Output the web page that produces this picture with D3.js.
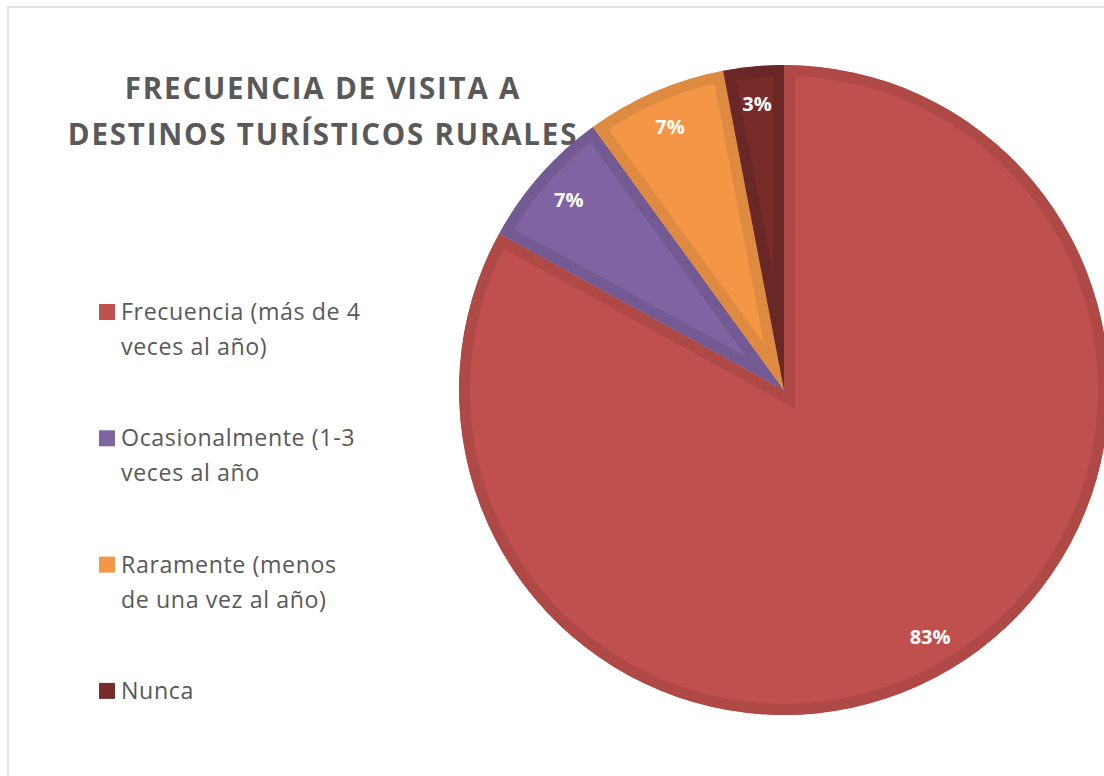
<!DOCTYPE html>
<html>
<head>
<meta charset="utf-8">
<script src="https://cdn.jsdelivr.net/npm/d3@7"></script>
<style>
  html, body { margin: 0; padding: 0; background: #fff; overflow: hidden; }
  svg { display: block; font-family: "Open Sans", sans-serif; }
</style>
</head>
<body>
<div id="chart"></div>
<script>
// data
const categories = [
  ["Frecuencia (más de 4", "veces al año)"],
  ["Ocasionalmente (1-3", "veces al año"],
  ["Raramente (menos", "de una vez al año)"],
  ["Nunca"]
];
const values = [83, 7, 7, 3];
const colors = ["#C0504D", "#8064A2", "#F39645", "#772C2A"];
const edgeColors = ["#AE4946", "#735A92", "#DE8A41", "#692826"];
const titleLines = ["FRECUENCIA DE VISITA A", "DESTINOS TURÍSTICOS RURALES"];

const W = 1104, H = 776;
const cx = 784, cy = 390, radius = 325;

const svg = d3.select("#chart").append("svg")
    .attr("width", W)
    .attr("height", H);

// chart area frame
svg.append("rect")
    .attr("x", 8).attr("y", 7)
    .attr("width", W + 20).attr("height", H + 20)
    .attr("fill", "#fff")
    .attr("stroke", "#d9d9d9")
    .attr("stroke-width", 1.5);

const total = d3.sum(values);
const pie = d3.pie().sort(null).value(d => d);
const arcs = pie(values);
const arc = d3.arc().innerRadius(0).outerRadius(radius);
const labelArc = d3.arc().innerRadius(287).outerRadius(287);

const defs = svg.append("defs");
const g = svg.append("g")
    .attr("transform", "translate(" + cx + "," + cy + ")");

arcs.forEach((d, i) => {
  defs.append("clipPath")
      .attr("id", "clip" + i)
    .append("path")
      .attr("d", arc(d));
});

// slices with a darker inner edge
g.selectAll(".slice")
    .data(arcs)
  .enter().append("path")
    .attr("class", "slice")
    .attr("d", arc)
    .attr("clip-path", (d, i) => "url(#clip" + i + ")")
    .attr("fill", (d, i) => colors[i])
    .attr("stroke", (d, i) => edgeColors[i])
    .attr("stroke-width", 22)
    .attr("stroke-linejoin", "miter");

const pct = d3.format(".0%");
g.selectAll(".lbl")
    .data(arcs)
  .enter().append("text")
    .attr("class", "lbl")
    .attr("transform", d => "translate(" + labelArc.centroid(d) + ")")
    .attr("text-anchor", "middle")
    .attr("dy", "0.36em")
    .attr("fill", "#fff")
    .attr("font-weight", "bold")
    .attr("font-size", 20)
    .text(d => pct(d.value / total));

// title
svg.append("g").selectAll("text")
    .data(titleLines)
  .enter().append("text")
    .attr("x", 323)
    .attr("y", (d, i) => 99 + i * 46)
    .attr("text-anchor", "middle")
    .attr("font-weight", "bold")
    .attr("font-size", 29.5)
    .attr("letter-spacing", 1.8)
    .attr("fill", "#595959")
    .text(d => d);

// legend
const legend = svg.append("g");
const item = legend.selectAll(".item")
    .data(categories)
  .enter().append("g")
    .attr("class", "item")
    .attr("transform", (d, i) => "translate(99," + (320 + i * 126.3) + ")");

item.append("rect")
    .attr("x", 0).attr("y", -16)
    .attr("width", 16).attr("height", 16)
    .attr("fill", (d, i) => colors[i]);

item.append("text")
    .attr("font-size", 23.2)
    .attr("letter-spacing", 0.6)
    .attr("fill", "#595959")
  .selectAll("tspan")
    .data(d => d)
  .enter().append("tspan")
    .attr("x", 22)
    .attr("y", (d, i) => i * 35)
    .text(d => d);
</script>
</body>
</html>
